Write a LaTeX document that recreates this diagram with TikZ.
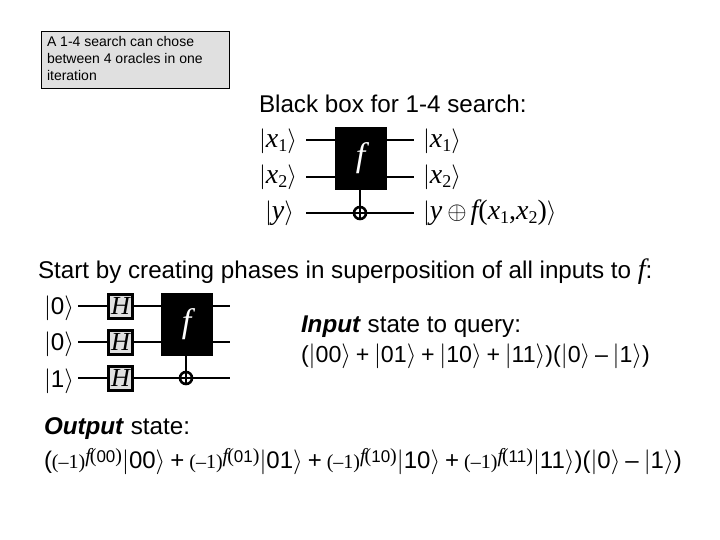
\documentclass[tikz,border=0pt]{standalone}
\usepackage{fontspec}
\setmainfont{Liberation Sans}
\newfontfamily\tms{Liberation Serif}
\newcommand{\kt}[1]{$|$#1$\rangle$}
\newcommand{\ki}[2]{$|${\itshape #1}\sub{#2}$\rangle$}
\newcommand{\sub}[1]{\raisebox{-4pt}{\fontsize{18}{18}\selectfont\upshape #1}}
\newcommand{\ms}{{\tms\fontsize{20}{20}\selectfont(–1)}}
\newcommand{\fx}[1]{\raisebox{6pt}{{\tms\fontsize{20}{20}\selectfont\itshape f\kern-1pt\upshape(}{\fontsize{17}{17}\selectfont #1}{\tms\fontsize{20}{20}\selectfont)}}}
\newcommand{\opA}[1]{\kern4.7pt#1\kern4.7pt}
\newcommand{\opB}[1]{\kern5pt#1\kern5pt}
\tikzset{
  x=1pt,y=-1pt,
  txt/.style={anchor=base west,inner sep=0pt,outer sep=0pt,font=\fontsize{24.2}{24.2}\selectfont},
  eqn/.style={txt,font=\fontsize{23.2}{23.2}\selectfont},
  eqnb/.style={txt,font=\fontsize{24}{24}\selectfont},
  ser/.style={anchor=base west,inner sep=0pt,outer sep=0pt,font=\tms\fontsize{28}{28}\selectfont},
  small/.style={anchor=base west,inner sep=0pt,outer sep=0pt,font=\fontsize{14}{14}\selectfont},
  wire/.style={line width=2.6pt,black},
  blackbox/.style={draw=black,fill=black,inner sep=0pt,minimum width=51pt,minimum height=62pt,text=white,font=\tms\itshape\fontsize{34}{34}\selectfont},
  hbox/.style={draw=black,fill=black!12,line width=3pt,inner sep=0pt,minimum size=24pt,font=\tms\itshape\fontsize{26}{26}\selectfont},
  target/.style={circle,draw=black,line width=2.6pt,inner sep=0pt,minimum size=12pt,path picture={\draw[line width=2.6pt] (path picture bounding box.north)--(path picture bounding box.south) (path picture bounding box.west)--(path picture bounding box.east);}},
  note/.style={draw=black,fill=black!12,line width=.8pt,anchor=north west,inner sep=0pt,minimum width=188pt,minimum height=57pt}
}
\begin{document}
\begin{tikzpicture}
\useasboundingbox (0,0) rectangle (720,540);
\node[note] (nb) at (41,31) {};
\node[small] (n1) at (47,47) {A 1-4 search can chose};
\node[small] (n2) at (47,64) {between 4 oracles in one};
\node[small] (n3) at (47,81) {iteration};
\node[txt] (t1) at (259,113) {Black box for 1-4 search:};
% first circuit
\coordinate (al) at (306,140); \coordinate (ar) at (414,140);
\coordinate (bl) at (306,177); \coordinate (br) at (414,177);
\coordinate (cl) at (306,213); \coordinate (cr) at (414,213);
\draw[wire] (al)--(ar);
\draw[wire] (bl)--(br);
\draw[wire] (cl)--(cr);
\node[target] (g1) at (360,213) {};
\node[blackbox] (f1) at (360.5,158) {f};
\draw[wire] (f1.south -| g1) -- (g1.north);
\node[ser] (k1) at (259,148) {\ki{x}{1}};
\node[ser] (k2) at (259,184) {\ki{x}{2}};
\node[ser] (k3) at (265,220) {$|${\itshape y}$\rangle$};
\node[ser] (r1) at (423,148) {\ki{x}{1}};
\node[ser] (r2) at (423,184) {\ki{x}{2}};
\node[ser] (r3) at (423,220) {$|${\itshape y}\kern5pt$\oplus$\kern4pt{\itshape f}(\textit{x}\sub{1},\textit{x}\sub{2})$\rangle$};
\node[txt] (t2) at (38,278) {Start by creating phases in superposition of all inputs to {\tms\itshape\fontsize{28}{28}\selectfont f}:};
% second circuit
\coordinate (dl) at (78,306); \coordinate (dr) at (230,306);
\coordinate (el) at (78,342); \coordinate (er) at (230,342);
\coordinate (hl) at (78,378); \coordinate (hr) at (230,378);
\draw[wire] (dl)--(dr);
\draw[wire] (el)--(er);
\draw[wire] (hl)--(hr);
\node[hbox] (h1) at (120.5,306) {H};
\node[hbox] (h2) at (120.5,342) {H};
\node[hbox] (h3) at (120.5,378) {H};
\node[target] (g2) at (186,378) {};
\node[blackbox] (f2) at (186.5,324.5) {f};
\draw[wire] (f2.south -| g2) -- (g2.north);
\node[txt] (z1) at (44,314) {\kt{0}};
\node[txt] (z2) at (44,350) {\kt{0}};
\node[txt] (z3) at (44,387) {\kt{1}};
\node[txt] (i1) at (301,332) {\textbf{\textit{Input}} state to query:};
\node[eqn] (i2) at (301,362) {(\kt{00}\opA{+}\kt{01}\opA{+}\kt{10}\opA{+}\kt{11})(\kt{0}\opA{–}\kt{1})};
\node[txt] (o1) at (44,434) {\textbf{\textit{Output}} state:};
\node[eqnb] (o2) at (44,468) {({\ms}\fx{00}\kt{00}\opB{+}{\ms}\fx{01}\kt{01}\opB{+}{\ms}\fx{10}\kt{10}\opB{+}{\ms}\fx{11}\kt{11})(\kt{0}\opB{–}\kt{1})};
\end{tikzpicture}
\end{document}
